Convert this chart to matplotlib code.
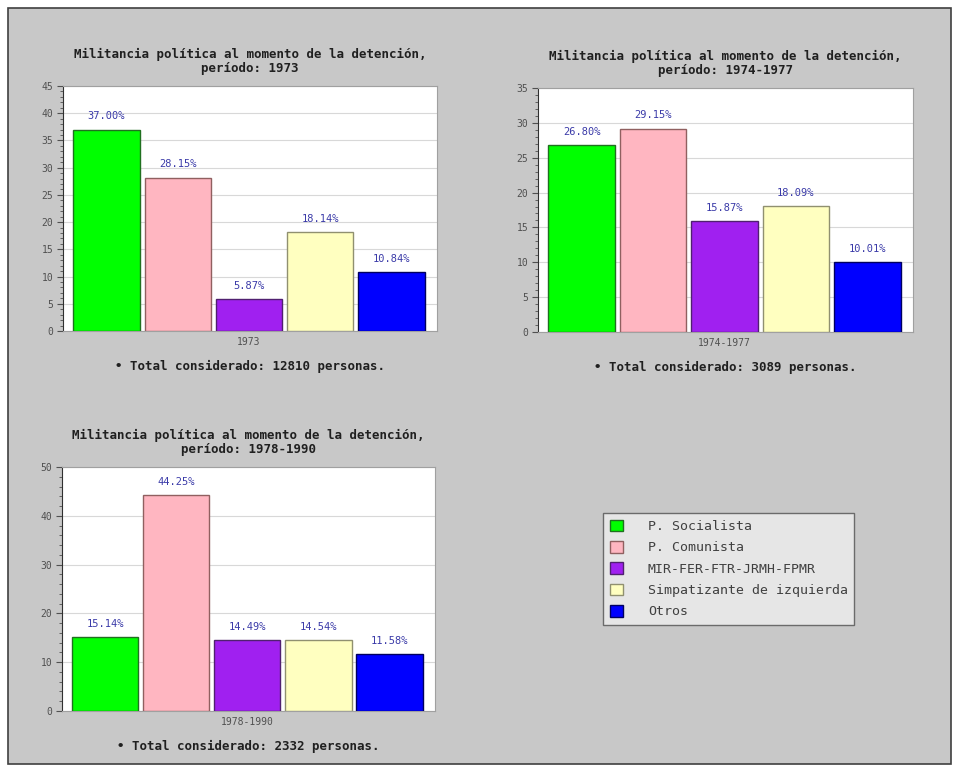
import matplotlib
matplotlib.use("Agg")
import matplotlib.pyplot as plt
from matplotlib.patches import Rectangle, Patch
from matplotlib.ticker import MultipleLocator

categories = ["P. Socialista", "P. Comunista", "MIR-FER-FTR-JRMH-FPMR",
              "Simpatizante de izquierda", "Otros"]
colors = ["#00ff00", "#ffb6c1", "#a020f0", "#ffffc0", "#0000ff"]
edges = ["#207020", "#906060", "#502070", "#909070", "#000060"]

periods = ["1973", "1974-1977", "1978-1990"]
values_1973 = [37.00, 28.15, 5.87, 18.14, 10.84]
values_1974_1977 = [26.80, 29.15, 15.87, 18.09, 10.01]
values_1978_1990 = [15.14, 44.25, 14.49, 14.54, 11.58]
totals = [12810, 3089, 2332]
ymax = [45, 35, 50]
ymajor = [5, 5, 10]
yminor = [1, 1, 2]

W, H = 955, 770
fig = plt.figure(figsize=(W / 100, H / 100), dpi=100)
fig.patch.set_facecolor("white")
fig.patches.append(Rectangle((8 / W, 6 / H), (951 - 8) / W, (762 - 6) / H,
                             transform=fig.transFigure, facecolor="#c8c8c8",
                             edgecolor="#404040", linewidth=1.2, zorder=-10))

boxes = [
    (63, 86, 437, 331),
    (538, 88, 913, 332),
    (62, 467, 435, 711),
]
mono = "DejaVu Sans Mono"
all_vals = [values_1973, values_1974_1977, values_1978_1990]

for i, (l, t, r, b) in enumerate(boxes):
    ax = fig.add_axes([l / W, 1 - b / H, (r - l) / W, (b - t) / H])
    ax.set_facecolor("white")
    vals = all_vals[i]
    xs = list(range(len(vals)))
    ax.bar(xs, vals, width=0.93, color=colors, edgecolor=edges, linewidth=1, zorder=3)
    ax.set_xlim(-0.61, 4.64)
    ax.set_ylim(0, ymax[i])
    ax.yaxis.set_major_locator(MultipleLocator(ymajor[i]))
    ax.yaxis.set_minor_locator(MultipleLocator(yminor[i]))
    ax.grid(axis="y", which="major", color="#d8d8d8", linewidth=0.8, zorder=0)
    ax.tick_params(axis="y", which="major", labelsize=7, colors="#505050", length=4, pad=3)
    ax.tick_params(axis="y", which="minor", length=2, colors="#505050")
    for lab in ax.get_yticklabels():
        lab.set_family(mono)
    ax.set_xticks([2])
    ax.set_xticklabels([periods[i]], family=mono, fontsize=7, color="#505050")
    ax.tick_params(axis="x", length=0, pad=4)
    for s in ["top", "right", "bottom"]:
        ax.spines[s].set_color("#a0a0a0")
    ax.spines["left"].set_color("#303030")
    for x, v in zip(xs, vals):
        ax.annotate(f"{v:.2f}%", (x, v), xytext=(0, 6), textcoords="offset points",
                    ha="center", va="bottom", fontsize=7.5, family=mono, color="#3a3aa8")
    title = "Militancia política al momento de la detención,\nperíodo: " + periods[i]
    cx = (l + r) / 2 / W
    fig.text(cx, 1 - (t - 25) / H, title, ha="center", va="center", fontsize=9,
             family=mono, weight="bold", color="#202020", linespacing=1.1)
    fig.text(cx, 1 - (b + 35) / H, f"• Total considerado: {totals[i]} personas.",
             ha="center", va="center", fontsize=9, family=mono, weight="bold", color="#202020")

handles = [Patch(facecolor=c, edgecolor=e, label=n) for c, e, n in zip(colors, edges, categories)]
leg = fig.legend(handles=handles, loc="upper left",
                 bbox_to_anchor=(603 / W, 1 - 513 / H), frameon=True, fancybox=False,
                 prop={"family": mono, "size": 9.5}, handlelength=1.0, handleheight=1.0,
                 handletextpad=1.9, labelspacing=0.6, borderpad=0.5, borderaxespad=0)
leg.get_frame().set_facecolor("#eeeeee")
leg.get_frame().set_edgecolor("#505050")
leg.get_frame().set_linewidth(1)
for txt in leg.get_texts():
    txt.set_color("#404040")

fig.savefig("out.png", dpi=100, facecolor=fig.get_facecolor())
